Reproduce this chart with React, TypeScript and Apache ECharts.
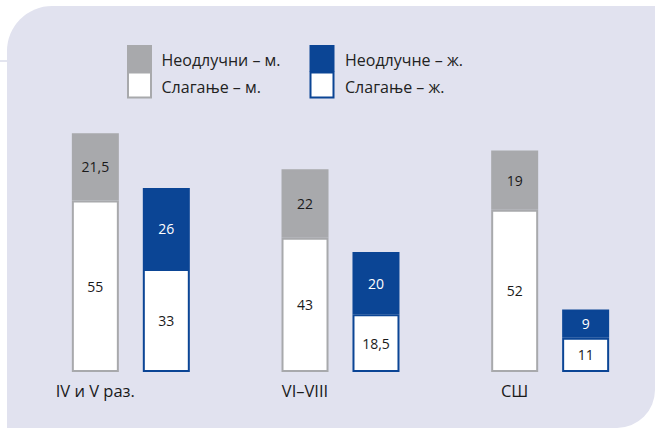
import React, { useEffect, useRef } from 'react';
import * as echarts from 'echarts';

const categories = ['IV и V раз.', 'VI–VIII', 'СШ'];
const agreeMale = [55, 43, 52];
const undecidedMale = [21.5, 22, 19];
const agreeFemale = [33, 18.5, 11];
const undecidedFemale = [26, 20, 9];
const legendMale = ['Неодлучни – м.', 'Слагање – м.'];
const legendFemale = ['Неодлучне – ж.', 'Слагање – ж.'];

const GRAY = '#a8a9ac';
const BLUE = '#0b4595';
const BG = '#e1e2ef';
const FONT = '"Open Sans", "Noto Sans", sans-serif';
const fmt = (p: any) => String(p.value).replace('.', ',');

function legendIcon(x: number, color: string) {
  return [
    { type: 'rect', shape: { x, y: 45, width: 25, height: 27 }, style: { fill: color } },
    {
      type: 'rect',
      shape: { x: x + 1, y: 72.5, width: 23, height: 25 },
      style: { fill: '#ffffff', stroke: color, lineWidth: 2 },
    },
  ];
}

function legendText(x: number, labels: string[]) {
  return labels.map((t, i) => ({
    type: 'text',
    x,
    y: i === 0 ? 60 : 87,
    style: { text: t, fill: '#222', font: `16px ${FONT}`, verticalAlign: 'middle', textAlign: 'left' },
  }));
}

export default function App() {
  const ref = useRef<HTMLDivElement>(null);
  useEffect(() => {
    document.body.style.margin = '0';
    const chart = echarts.init(ref.current!, null, { renderer: 'svg' });
    const segLabel = (color: string) => ({
      show: true,
      position: 'inside',
      formatter: fmt,
      color,
      fontSize: 14,
      fontFamily: FONT,
    });
    chart.setOption({
      animation: false,
      backgroundColor: '#ffffff',
      grid: { left: 26, width: 633, top: 60, bottom: 56 },
      xAxis: {
        type: 'category',
        data: categories,
        axisLine: { show: false },
        axisTick: { show: false },
        axisLabel: {
          fontSize: 16.5,
          color: '#1a1a1a',
          fontFamily: FONT,
          margin: 10,
          padding: [0, 71, 0, 0],
        },
      },
      yAxis: { type: 'value', min: 0, max: 100, show: false, splitLine: { show: false } },
      graphic: [
        {
          type: 'rect',
          z: -100,
          shape: { x: 7, y: 6, width: 648, height: 422, r: [45, 0, 38, 0] },
          style: { fill: BG },
        },
        {
          type: 'line',
          z: -100,
          shape: { x1: 0, y1: 61, x2: 7, y2: 61 },
          style: { stroke: '#c7cadf', lineWidth: 1 },
        },
        ...legendIcon(127, GRAY),
        ...legendIcon(309.5, BLUE),
        ...legendText(161.5, legendMale),
        ...legendText(345, legendFemale),
      ],
      series: [
        {
          type: 'bar',
          name: legendMale[1],
          stack: 'm',
          data: agreeMale,
          barWidth: 47,
          barGap: '51%',
          itemStyle: { color: '#ffffff', borderColor: GRAY, borderWidth: 2 },
          label: segLabel('#1a1a1a'),
        },
        {
          type: 'bar',
          name: legendMale[0],
          stack: 'm',
          data: undecidedMale,
          barWidth: 47,
          barGap: '51%',
          itemStyle: { color: GRAY, borderColor: GRAY, borderWidth: 2 },
          label: segLabel('#1a1a1a'),
        },
        {
          type: 'bar',
          name: legendFemale[1],
          stack: 'f',
          data: agreeFemale,
          barWidth: 47,
          barGap: '51%',
          itemStyle: { color: '#ffffff', borderColor: BLUE, borderWidth: 2 },
          label: segLabel('#1a1a1a'),
        },
        {
          type: 'bar',
          name: legendFemale[0],
          stack: 'f',
          data: undecidedFemale,
          barWidth: 47,
          barGap: '51%',
          itemStyle: { color: BLUE, borderColor: BLUE, borderWidth: 2 },
          label: segLabel('#ffffff'),
        },
      ],
    });
    return () => chart.dispose();
  }, []);
  return <div ref={ref} style={{ width: 655, height: 428 }} />;
}
